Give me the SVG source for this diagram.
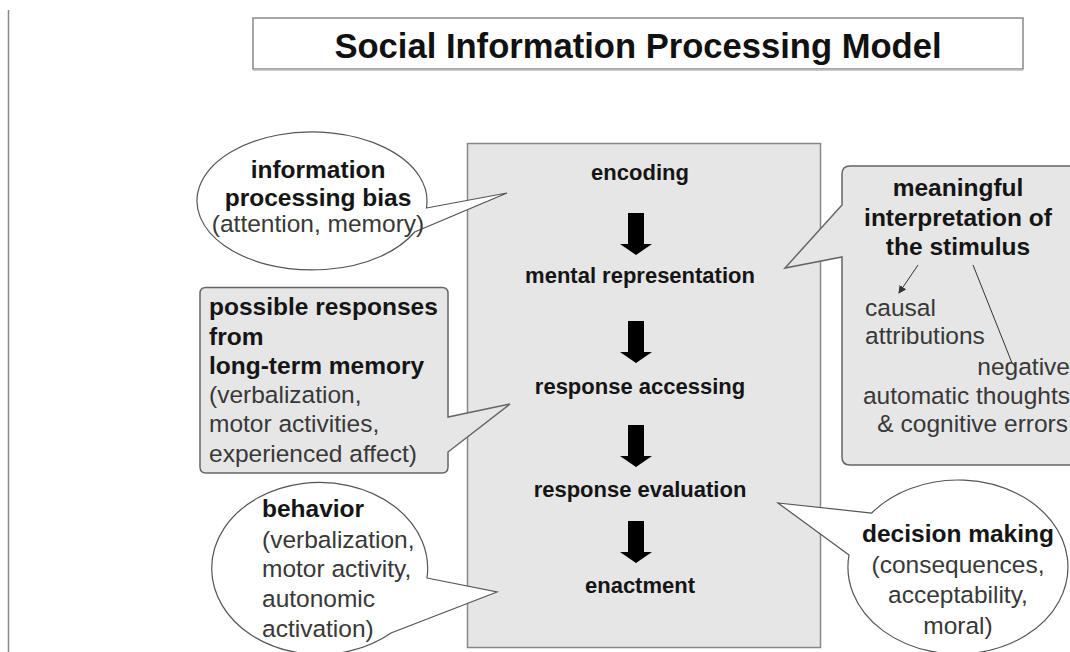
<svg xmlns="http://www.w3.org/2000/svg" width="1070" height="652" viewBox="0 0 1070 652">
<style>
text{font-family:"Liberation Sans",Arial,Helvetica,sans-serif}
.t{font-size:34.6px;font-weight:bold;fill:#111;text-anchor:middle}
.c{font-size:22px;font-weight:bold;fill:#151515;text-anchor:middle}
.b{font-size:24.5px;font-weight:bold;fill:#151515}
.r{font-size:24.5px;fill:#383838}
.mid{text-anchor:middle}
.end{text-anchor:end}
.oval{fill:#fff;stroke:#555;stroke-width:1.2}
.gbox{fill:#e6e6e6;stroke:#666;stroke-width:1.5}
</style>
<defs>
<path id="blk" d="M-8,0 H8 V31 H16 L0,42 L-16,31 H-8 Z" fill="#000"/>
<marker id="ah" markerWidth="8" markerHeight="8" refX="7" refY="4" orient="auto" markerUnits="userSpaceOnUse">
<path d="M0,0 L8,4 L0,8 Z" fill="#333"/>
</marker>
</defs>
<rect width="1070" height="652" fill="#fff"/>
<line x1="8.5" y1="10" x2="8.5" y2="652" stroke="#888" stroke-width="1.5"/>
<g id="title">
<rect x="253" y="18" width="770" height="51" fill="#fff" stroke="#888" stroke-width="1.5"/>
<line x1="253" y1="70" x2="1023" y2="70" stroke="#bbb" stroke-width="1.5"/>
<text class="t" x="638" y="58">Social Information Processing Model</text>
</g>
<g id="process">
<rect x="467.5" y="143.5" width="353" height="504" fill="#e6e6e6" stroke="#888" stroke-width="1.5"/>
<text class="c" x="640" y="180">encoding</text>
<text class="c" x="640" y="283">mental representation</text>
<text class="c" x="640" y="394">response accessing</text>
<text class="c" x="640" y="497">response evaluation</text>
<text class="c" x="640" y="593">enactment</text>
</g>
<g id="connectors">
<use href="#blk" transform="translate(636,213)"/>
<use href="#blk" transform="translate(636,321)"/>
<use href="#blk" transform="translate(636,425)"/>
<use href="#blk" transform="translate(636,521)"/>
</g>
<g id="bias">
<path class="oval" d="M426.4,208 L507,193 L414.7,232 A115 69 0 1 1 426.4,208 Z"/>
<text class="b mid" x="318" y="178">information</text>
<text class="b mid" x="318" y="206">processing bias</text>
<text class="r mid" x="318" y="232">(attention, memory)</text>
</g>
<g id="responses">
<path class="gbox" d="M206,287.5 H442 Q448,287.5 448,293.5 V417 L510,404 L448,452 V467 Q448,473 442,473 H206 Q200,473 200,467 V293.5 Q200,287.5 206,287.5 Z"/>
<text class="b" x="209" y="315">possible responses</text>
<text class="b" x="209" y="345">from</text>
<text class="b" x="209" y="374">long-term memory</text>
<text class="r" x="209" y="403">(verbalization,</text>
<text class="r" x="209" y="432">motor activities,</text>
<text class="r" x="209" y="462">experienced affect)</text>
</g>
<g id="behavior">
<path class="oval" d="M427,578 L497,592 L391,633 A108 86 0 1 1 427,578 Z"/>
<text class="b" x="262" y="517">behavior</text>
<text class="r" x="262" y="548">(verbalization,</text>
<text class="r" x="262" y="577">motor activity,</text>
<text class="r" x="262" y="607">autonomic</text>
<text class="r" x="262" y="637">activation)</text>
</g>
<g id="interpretation">
<path class="gbox" d="M1075,166 H850 Q842,166 842,174 V205 L785,268 L842,257 V457 Q842,465 850,465 H1075 Z"/>
<text class="b mid" x="958" y="196">meaningful</text>
<text class="b mid" x="958" y="226">interpretation of</text>
<text class="b mid" x="958" y="255">the stimulus</text>
<line x1="918" y1="265" x2="899" y2="293" stroke="#333" stroke-width="1" marker-end="url(#ah)"/>
<line x1="973" y1="265" x2="1012" y2="363" stroke="#333" stroke-width="1"/>
<text class="r" x="865" y="316">causal</text>
<text class="r" x="865" y="344">attributions</text>
<text class="r end" x="1070" y="375">negative</text>
<text class="r end" x="1070" y="404">automatic thoughts</text>
<text class="r end" x="1068" y="432">&amp; cognitive errors</text>
</g>
<g id="decision">
<path class="oval" d="M849,555 L778,503 L871.7,513 A110 87 0 1 1 849,555 Z"/>
<text class="b mid" x="958" y="542" font-size="26">decision making</text>
<text class="r mid" x="958" y="573">(consequences,</text>
<text class="r mid" x="958" y="603">acceptability,</text>
<text class="r mid" x="958" y="634">moral)</text>
</g>
</svg>
